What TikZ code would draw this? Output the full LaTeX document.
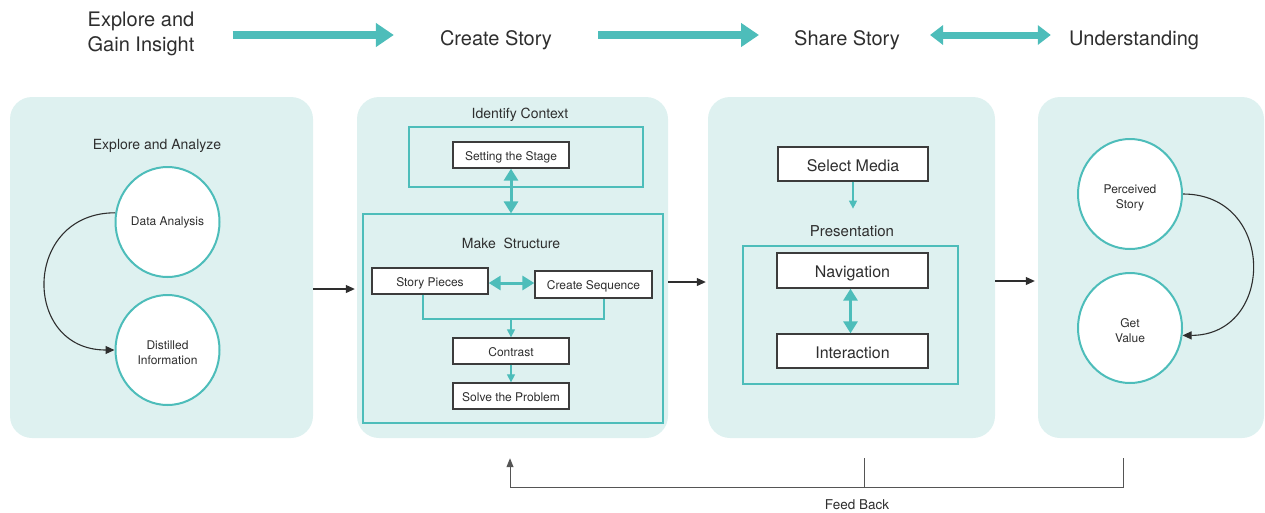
\documentclass[tikz,border=0pt]{standalone}
\usepackage{fontspec}
\setmainfont{TeX Gyre Heros}
\usetikzlibrary{arrows.meta,shapes.geometric,calc}
\definecolor{panelc}{HTML}{DEF1F0}
\definecolor{tealc}{HTML}{4DBDBA}
\definecolor{txtc}{HTML}{2E2E2E}
\definecolor{boxc}{HTML}{3C3C3C}
\definecolor{fbc}{HTML}{555555}
\newcommand\fsz[2]{\fontsize{#1}{#2}\selectfont}
\tikzset{
  panel/.style={rectangle, fill=panelc, rounded corners=22pt, inner sep=0pt, draw=none},
  toplbl/.style={inner sep=0pt, font=\fsz{20}{25}, align=center},
  ptitle/.style={inner sep=0pt, font=\fsz{14}{17}},
  tframe/.style={rectangle, draw=tealc, line width=1.2pt, inner sep=0pt},
  wbox/.style={rectangle, draw=boxc, line width=1.3pt, fill=white, inner sep=0pt, font=\fsz{12}{14}, text height=13pt, text depth=2.5pt},
  bigbox/.style={wbox, font=\fsz{16}{19}, text height=17.5pt, text depth=3pt},
  circ/.style={ellipse, draw=tealc, line width=2pt, fill=white, minimum width=104pt, minimum height=110pt, inner sep=0pt, align=center, font=\fsz{12}{15}},
  twoline/.style={text height=30.5pt, text depth=2.5pt},
  conn/.style={draw=txtc, line width=1.1pt, -{Triangle[length=9pt,width=8pt]}},
  tealdbl/.style={draw=tealc, line width=3pt, {Triangle[length=12pt,width=14pt]}-{Triangle[length=12pt,width=14pt]}},
  tline/.style={draw=tealc, line width=1.2pt},
  tarr/.style={draw=tealc, line width=1.2pt, -{Triangle[length=8pt,width=8pt]}},
  bigarrow/.style={draw=tealc, line width=8pt, -{Triangle[length=18pt,width=23pt]}},
  bigdbl/.style={draw=tealc, line width=7pt, {Triangle[length=13pt,width=19pt]}-{Triangle[length=13pt,width=19pt]}},
  fbl/.style={draw=fbc, line width=1pt}
}
\begin{document}
\begin{tikzpicture}[x=1pt,y=-1pt, every node/.style={text=txtc}]
\useasboundingbox (0,0) rectangle (1265,512);

% panels
\node[panel, minimum width=303pt, minimum height=341pt] (p1) at (161.5,267.5) {};
\node[panel, minimum width=311pt, minimum height=341pt] (p2) at (512.5,267.5) {};
\node[panel, minimum width=287pt, minimum height=341pt] (p3) at (851.5,267.5) {};
\node[panel, minimum width=226pt, minimum height=341pt] (p4) at (1151,267.5) {};

% top row
\node[toplbl] (t1) at (141,33.5) {Explore and\\Gain Insight};
\node[toplbl] (t2) at (496,40) {Create Story};
\node[toplbl] (t3) at (847,40) {Share Story};
\node[toplbl] (t4) at (1134,40) {Understanding};
\draw[bigarrow] ([xshift=38pt,yshift=-1.5pt]t1.east) -- ([xshift=-46pt,yshift=5pt]t2.west);
\draw[bigarrow] ([xshift=46pt,yshift=5pt]t2.east) -- ([xshift=-35pt,yshift=5pt]t3.west);
\draw[bigdbl] ([xshift=30pt,yshift=5pt]t3.east) -- ([xshift=-18pt,yshift=5pt]t4.west);

% panel 1
\node[ptitle] (ea) at (157,146) {Explore and Analyze};
\node[circ] (da) at (167.5,222) {Data Analysis};
\node[circ, twoline] (di) at (167.5,350) {Distilled\\Information};
\draw[conn] (da.170) .. controls +(-93,0) and +(-93,0) .. (di.west);

% panel 2
\node[ptitle] (ic) at (520,115) {Identify Context};
\node[tframe, minimum width=234pt, minimum height=60pt] (icf) at (526,157) {};
\node[wbox, minimum width=116pt, minimum height=26pt] (ss) at (511,155) {Setting the Stage};
\node[tframe, minimum width=300pt, minimum height=209pt] (msf) at (513,318.5) {};
\node[ptitle] (ms) at (511,243) {Make\ \ Structure};
\node[wbox, minimum width=116pt, minimum height=26pt] (sp) at (430,281) {Story Pieces};
\node[wbox, minimum width=117pt, minimum height=27pt] (cs) at (593.5,284.5) {Create Sequence};
\node[wbox, minimum width=116pt, minimum height=26pt] (ct) at (511,351) {Contrast};
\node[wbox, minimum width=116pt, minimum height=26pt] (sv) at (511,396) {Solve the Problem};
\coordinate (jn) at (511,319);
\draw[tealdbl] (ss.south) -- (ss.south |- msf.north);
\draw[tealdbl] ([yshift=-2pt]sp.east) -- ([yshift=-2pt]sp.east -| cs.west);
\draw[tline] ([xshift=-7pt]sp.south) |- ([xshift=10.5pt]cs.south |- jn) -- ([xshift=10.5pt]cs.south);
\draw[tarr] (jn) -- (ct.north);
\draw[tarr] (ct.south) -- (sv.north);

% panel 3
\node[bigbox, minimum width=150pt, minimum height=34pt] (sm) at (853,164) {Select Media};
\node[inner sep=0pt, font=\fsz{15}{18}] (pr) at (852,231) {Presentation};
\draw[tarr] (sm.south) -- ++(0,27);
\node[tframe, minimum width=215pt, minimum height=138pt] (prf) at (850.5,315) {};
\node[bigbox, minimum width=151pt, minimum height=35pt] (nv) at (852.5,270.5) {Navigation};
\node[bigbox, minimum width=151pt, minimum height=34pt] (ia) at (852.5,351) {Interaction};
\draw[tealdbl] ([xshift=-2pt]nv.south) -- ([xshift=-2pt]ia.north);

% panel 4
\node[circ, twoline] (pv) at (1130,194) {Perceived\\Story};
\node[circ, twoline] (gv) at (1130,328) {Get\\Value};
\draw[conn] (pv.east) .. controls +(93,0) and +(93,0) .. (gv.-8);

% inter-panel arrows
\draw[conn] ([yshift=-21.5pt]p1.east) -- ([yshift=-21.5pt,xshift=-2pt]p2.west);
\draw[conn] ([yshift=-14.5pt]p2.east) -- ([yshift=-14.5pt,xshift=-2pt]p3.west);
\draw[conn] ([yshift=-13.5pt]p3.east) -- ([yshift=-13.5pt,xshift=-3pt]p4.west);

% feedback
\coordinate (fb2) at ([xshift=-2.5pt,yshift=-20pt]p2.south);
\coordinate (fb3) at ([xshift=12.5pt,yshift=-20pt]p3.south);
\coordinate (fb4) at ([xshift=-28pt,yshift=-20pt]p4.south);
\coordinate (fbb) at ([yshift=-29pt]fb3);
\draw[fbl, -{Triangle[length=9pt,width=7pt]}] (fb4) |- (fb2 |- fbb) -- (fb2);
\draw[fbl] (fb3) -- (fbb);
\node[inner sep=0pt, font=\fsz{13.5}{16}] (fbt) at (857,505) {Feed Back};
\end{tikzpicture}
\end{document}
